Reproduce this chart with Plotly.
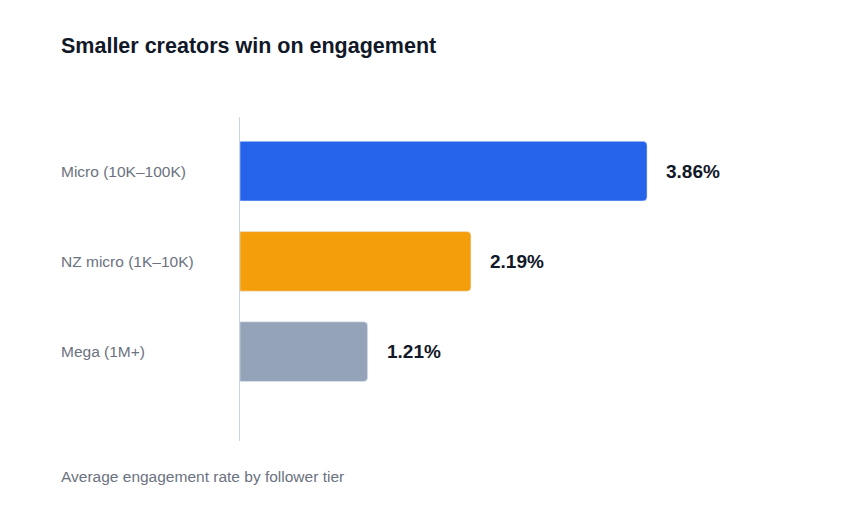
import plotly.graph_objects as go

# Dados do gráfico
categorias = ["Micro (10K–100K)", "NZ micro (1K–10K)", "Mega (1M+)"]
taxas = [3.86, 2.19, 1.21]
cores = ["#2563eb", "#f59e0b", "#94a3b8"]
rotulos_valor = ["3.86%", "2.19%", "1.21%"]

titulo = "Smaller creators win on engagement"
rodape = "Average engagement rate by follower tier"

fig = go.Figure(go.Bar(
    x=taxas,
    y=categorias,
    orientation="h",
    marker=dict(color=cores),
    width=0.66,
    hoverinfo="skip",
))

# Rótulos das categorias alinhados à esquerda
anotacoes = []
for cat in categorias:
    anotacoes.append(dict(
        x=-0.3125, y=cat, xref="paper", yref="y", text=cat,
        showarrow=False, xanchor="left", yanchor="middle",
        font=dict(size=15.5, color="#6b7280"),
    ))

# Valores no fim das barras
for cat, val, txt in zip(categorias, taxas, rotulos_valor):
    anotacoes.append(dict(
        x=val, y=cat, xref="x", yref="y", text="<b>" + txt + "</b>",
        showarrow=False, xanchor="left", yanchor="middle", xshift=17,
        font=dict(size=19, color="#111827"),
    ))

anotacoes.append(dict(
    x=-0.3125, y=-0.111, xref="paper", yref="paper", text=rodape,
    showarrow=False, xanchor="left", yanchor="middle",
    font=dict(size=15.5, color="#6b7280"),
))

fig.update_layout(
    width=854,
    height=505,
    margin=dict(l=232, r=42, t=109, b=72),
    paper_bgcolor="white",
    plot_bgcolor="white",
    font=dict(family="Liberation Sans, Arial, sans-serif"),
    title=dict(
        text="<b>" + titulo + "</b>",
        x=53 / 854, xref="container", xanchor="left",
        y=1 - 37 / 505, yref="container", yanchor="middle",
        font=dict(size=21.5, color="#111827"),
    ),
    barcornerradius=4,
    showlegend=False,
    annotations=anotacoes,
)

fig.update_xaxes(range=[0, 5.5], showgrid=False, zeroline=False,
                 showticklabels=False, showline=False)
fig.update_yaxes(range=[2.99, -0.6], showticklabels=False, showgrid=False,
                 showline=True, linecolor="#cbd5e1", linewidth=1, ticks="")

fig.write_html("out.html")
